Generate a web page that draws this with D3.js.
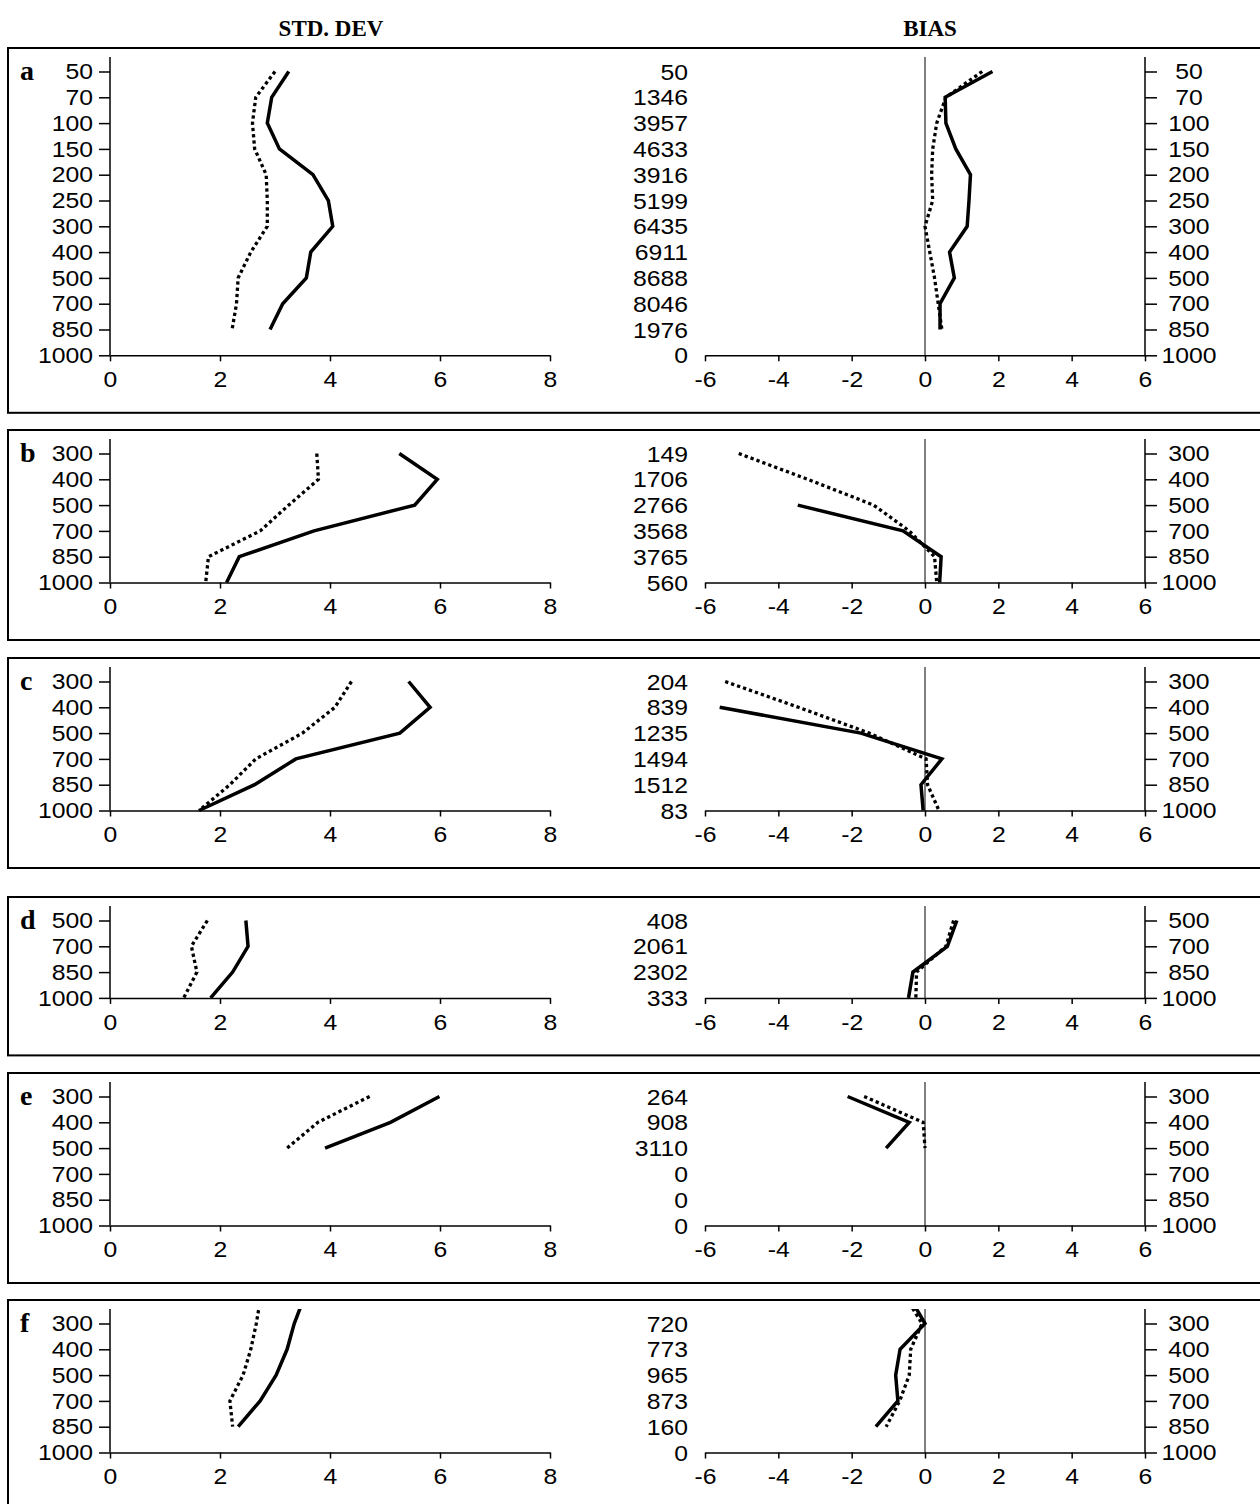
<!DOCTYPE html>
<html>
<head>
<meta charset="utf-8">
<script src="https://cdn.jsdelivr.net/npm/d3@7"></script>
<style>
  body { margin: 0; background: #fff; }
  svg { display: block; }
</style>
</head>
<body>
<svg id="chart" width="1260" height="1504"></svg>
<script>
// Pressure ladder (hPa), top first
const levels = ["50","70","100","150","200","250","300","400","500","700","850","1000"];
const stdTicks = [0, 2, 4, 6, 8];
const biasTicks = [-6, -4, -2, 0, 2, 4, 6];
const headers = ["STD. DEV", "BIAS"];

// a
const aLev = ["50","70","100","150","200","250","300","400","500","700","850"];
const aStdSolid  = [3.25, 2.94, 2.86, 3.08, 3.69, 3.97, 4.05, 3.65, 3.57, 3.14, 2.91];
const aStdDotted = [3.00, 2.65, 2.59, 2.63, 2.84, 2.86, 2.86, 2.56, 2.33, 2.30, 2.22];
const aBiasSolid  = [1.84, 0.55, 0.57, 0.84, 1.24, 1.20, 1.15, 0.67, 0.80, 0.41, 0.41];
const aBiasDotted = [1.56, 0.57, 0.32, 0.21, 0.18, 0.21, 0.00, 0.13, 0.26, 0.36, 0.46];
const aCounts = [50, 1346, 3957, 4633, 3916, 5199, 6435, 6911, 8688, 8046, 1976, 0];

// b
const bLev = ["300","400","500","700","850","1000"];
const bStdSolid  = [5.26, 5.95, 5.54, 3.71, 2.35, 2.12];
const bStdDotted = [3.76, 3.79, 3.25, 2.73, 1.79, 1.74];
const bBiasSolidLev = ["500","700","850","1000"];
const bBiasSolid  = [-3.47, -0.60, 0.44, 0.40];
const bBiasDotted = [-5.08, -3.20, -1.40, -0.43, 0.26, 0.32];
const bCounts = [149, 1706, 2766, 3568, 3765, 560];

// c
const cLev = ["300","400","500","700","850","1000"];
const cStdSolid  = [5.43, 5.82, 5.27, 3.38, 2.63, 1.62];
const cStdDotted = [4.39, 4.09, 3.50, 2.65, 2.18, 1.62];
const cBiasSolidLev = ["400","500","700","850","1000"];
const cBiasSolid  = [-5.60, -1.75, 0.46, -0.11, -0.05];
const cBiasDotted = [-5.45, -3.45, -1.52, 0.03, 0.07, 0.38];
const cCounts = [204, 839, 1235, 1494, 1512, 83];

// d
const dLev = ["500","700","850","1000"];
const dStdSolid  = [2.47, 2.51, 2.23, 1.83];
const dStdDotted = [1.77, 1.48, 1.58, 1.34];
const dBiasSolid  = [0.87, 0.61, -0.33, -0.45];
const dBiasDotted = [0.78, 0.57, -0.23, -0.25];
const dCounts = [408, 2061, 2302, 333];

// e
const eLev = ["300","400","500"];
const eStdSolid  = [5.99, 5.10, 3.91];
const eStdDotted = [4.72, 3.78, 3.22];
const eBiasSolid  = [-2.11, -0.43, -1.06];
const eBiasDotted = [-1.66, -0.05, 0.00];
const eCounts = [264, 908, 3110, 0, 0, 0];

// f (profile continues above the plotted range)
const fLev = ["250","300","400","500","700","850"];
const fStdSolid  = [3.53, 3.35, 3.22, 3.02, 2.73, 2.33];
const fStdDotted = [2.74, 2.66, 2.56, 2.42, 2.18, 2.23];
const fBiasSolid  = [-0.41, 0.00, -0.68, -0.80, -0.74, -1.34];
const fBiasDotted = [-0.52, -0.08, -0.39, -0.43, -0.69, -1.06];
const fCounts = [720, 773, 965, 873, 160, 0];

const panels = [
  { letter: "a", first: "50",
    std:  [[aLev, aStdSolid, false], [aLev, aStdDotted, true]],
    bias: [[aLev, aBiasSolid, false], [aLev, aBiasDotted, true]], counts: aCounts },
  { letter: "b", first: "300",
    std:  [[bLev, bStdSolid, false], [bLev, bStdDotted, true]],
    bias: [[bBiasSolidLev, bBiasSolid, false], [bLev, bBiasDotted, true]], counts: bCounts },
  { letter: "c", first: "300",
    std:  [[cLev, cStdSolid, false], [cLev, cStdDotted, true]],
    bias: [[cBiasSolidLev, cBiasSolid, false], [cLev, cBiasDotted, true]], counts: cCounts },
  { letter: "d", first: "500",
    std:  [[dLev, dStdSolid, false], [dLev, dStdDotted, true]],
    bias: [[dLev, dBiasSolid, false], [dLev, dBiasDotted, true]], counts: dCounts },
  { letter: "e", first: "300",
    std:  [[eLev, eStdSolid, false], [eLev, eStdDotted, true]],
    bias: [[eLev, eBiasSolid, false], [eLev, eBiasDotted, true]], counts: eCounts },
  { letter: "f", first: "300",
    std:  [[fLev, fStdSolid, false], [fLev, fStdDotted, true]],
    bias: [[fLev, fBiasSolid, false], [fLev, fBiasDotted, true]], counts: fCounts }
];

// ---- layout ----
const panelTops = [48, 430, 658, 897, 1073, 1300];
const LEVEL_GAP = 25.8;
const FRAME_TO_FIRST = 23.5;   // frame top -> first level
const AXIS_ABOVE = 14.5;       // axis line extends above first level
const AXIS_TO_FRAME = 57.5;    // x axis -> frame bottom
const stdRange = [110, 550];
const biasRange = [705, 1145];
const SX = 1.1;                // horizontal stretch of the sans typeface
const FS = 22.5;
const sans = "'Liberation Sans', Arial, Helvetica, sans-serif";
const serif = "'Liberation Serif', 'Times New Roman', Times, serif";

const svg = d3.select("#chart");
svg.append("rect").attr("width", 1260).attr("height", 1504).attr("fill", "#fff");

const xStd = d3.scaleLinear().domain([0, 8]).range(stdRange);
const xBias = d3.scaleLinear().domain([-6, 6]).range(biasRange);
const plain = d => String(d);   // hyphen-minus for negatives

function stretch(sel) {
  sel.each(function () {
    const t = d3.select(this);
    const x = +t.attr("x") || 0;
    t.attr("x", x / SX).attr("transform", `scale(${SX},1)`);
  });
}

// column headers
svg.selectAll("text.header").data(headers).join("text")
  .attr("class", "header")
  .attr("x", (d, i) => i === 0 ? 331 : 930)
  .attr("y", 36)
  .attr("text-anchor", "middle")
  .attr("font-family", serif).attr("font-weight", "bold").attr("font-size", 23)
  .text(d => d);

panels.forEach((p, pi) => {
  const top = panelTops[pi];
  const firstIdx = levels.indexOf(p.first);
  const lastIdx = levels.length - 1;
  const y0 = top + FRAME_TO_FIRST;
  const y = d3.scaleLinear().domain([firstIdx, lastIdx])
    .range([y0, y0 + (lastIdx - firstIdx) * LEVEL_GAP]);
  const axisY = y(lastIdx);
  const axisTop = y(firstIdx) - AXIS_ABOVE;
  const visible = d3.range(firstIdx, lastIdx + 1);
  const g = svg.append("g");

  // frame
  g.append("rect")
    .attr("x", 8).attr("y", top)
    .attr("width", 1270).attr("height", axisY + AXIS_TO_FRAME - top)
    .attr("fill", "none").attr("stroke", "#000").attr("stroke-width", 2);

  // panel letter
  g.append("text").attr("x", 20).attr("y", y(firstIdx) + 8)
    .attr("font-family", serif).attr("font-weight", "bold").attr("font-size", 28)
    .text(p.letter);

  const clipId = "clip" + pi;
  g.append("clipPath").attr("id", clipId).append("rect")
    .attr("x", 0).attr("y", axisTop).attr("width", 1260).attr("height", axisY - axisTop + 4);

  // ---- STD. DEV plot ----
  const yl = g.append("g").attr("transform", `translate(${stdRange[0]},0)`)
    .call(d3.axisLeft(y).tickValues(visible).tickFormat(i => levels[i])
      .tickSize(11).tickSizeOuter(0).tickPadding(6));
  yl.select(".domain").remove();
  yl.append("line").attr("x1", 0).attr("x2", 0).attr("y1", axisTop).attr("y2", axisY)
    .attr("stroke", "#000").attr("stroke-width", 1.5);

  const xl = g.append("g").attr("transform", `translate(0,${axisY})`)
    .call(d3.axisBottom(xStd).tickValues(stdTicks).tickFormat(plain)
      .tickSize(6).tickSizeOuter(0).tickPadding(10));

  // ---- BIAS plot ----
  const xr = g.append("g").attr("transform", `translate(0,${axisY})`)
    .call(d3.axisBottom(xBias).tickValues(biasTicks).tickFormat(plain)
      .tickSize(6).tickSizeOuter(0).tickPadding(10));

  g.append("line").attr("x1", xBias(0)).attr("x2", xBias(0))
    .attr("y1", axisTop).attr("y2", axisY).attr("stroke", "#000").attr("stroke-width", 1);

  const yr = g.append("g").attr("transform", `translate(${biasRange[1]},0)`)
    .call(d3.axisRight(y).tickValues(visible).tickFormat(i => levels[i])
      .tickSize(12).tickSizeOuter(0));
  yr.select(".domain").remove();
  yr.append("line").attr("x1", 0).attr("x2", 0).attr("y1", axisTop).attr("y2", axisY)
    .attr("stroke", "#000").attr("stroke-width", 1.5);
  yr.selectAll(".tick text").attr("text-anchor", "middle").attr("x", 44);

  // observation counts
  g.append("g").selectAll("text").data(p.counts).join("text")
    .attr("x", 688).attr("y", (d, i) => y(firstIdx + i)).attr("dy", "0.36em")
    .attr("text-anchor", "end").text(plain);

  [yl, xl, xr, yr].forEach(a => {
    a.selectAll("line").attr("stroke", "#000").attr("stroke-width", 1.5);
    a.selectAll(".domain").attr("stroke", "#000").attr("stroke-width", 1.5);
  });
  g.selectAll("text:not([font-family])").attr("font-family", sans).attr("font-size", FS).attr("fill", "#000");
  g.selectAll(".tick text").attr("font-family", sans).attr("font-size", FS).attr("fill", "#000");
  stretch(g.selectAll("text").filter(function () { return d3.select(this).attr("font-family") === sans; }));

  // profiles
  const lines = g.append("g").attr("clip-path", `url(#${clipId})`);
  const draw = (series, x) => series.forEach(([lev, vals, dotted]) => {
    const pts = lev.map((l, i) => [x(vals[i]), y(levels.indexOf(l))]);
    lines.append("path").attr("d", d3.line()(pts))
      .attr("fill", "none").attr("stroke", "#000")
      .attr("stroke-width", dotted ? 3.3 : 3.5)
      .attr("stroke-dasharray", dotted ? "3.3 3" : null)
      .attr("stroke-linejoin", "miter");
  });
  draw(p.std, xStd);
  draw(p.bias, xBias);
});
</script>
</body>
</html>
